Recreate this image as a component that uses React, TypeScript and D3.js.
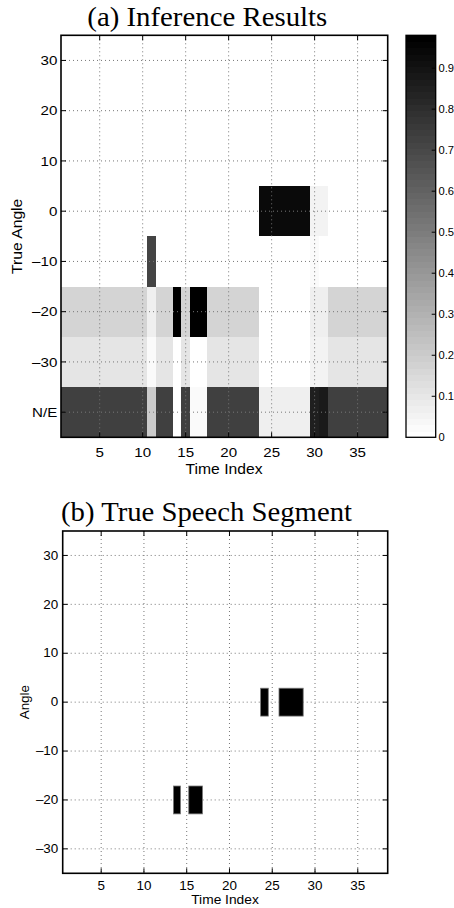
import React from "react";
import * as d3 from "d3";

// ---------- DATA ----------
const timeIndex: number[] = d3.range(1, 39); // 1..38
const angleRows: number[] = [30, 20, 10, 0, -10, -20, -30, -40];
const angleLabels: string[] = ["30", "20", "10", "0", "–10", "–20", "–30", "N/E"];

const row30: number[] = [0,0,0,0,0,0,0,0,0,0, 0,0,0,0,0,0,0,0,0,0, 0,0,0,0,0,0,0,0,0,0, 0,0,0,0,0,0,0,0];
const row20: number[] = [0,0,0,0,0,0,0,0,0,0, 0,0,0,0,0,0,0,0,0,0, 0,0,0,0,0,0,0,0,0,0, 0,0,0,0,0,0,0,0];
const row10: number[] = [0,0,0,0,0,0,0,0,0,0, 0,0,0,0,0,0,0,0,0,0, 0,0,0,0,0,0,0,0,0,0, 0,0,0,0,0,0,0,0];
const row0: number[] = [0,0,0,0,0,0,0,0,0,0, 0,0,0,0,0,0,0,0,0,0, 0,0,0,0.94,0.94,0.94,0.94,0.94,0.94,0.045, 0.045,0,0,0,0,0,0,0];
const rowM10: number[] = [0,0,0,0,0,0,0,0,0,0, 0.72,0,0,0,0,0,0,0,0,0, 0,0,0,0,0,0,0,0,0,0.02, 0,0,0,0,0,0,0,0];
const rowM20: number[] = [0.165,0.165,0.165,0.165,0.165,0.165,0.165,0.165,0.165,0.165, 0.06,0.165,0.165,0.98,0.165,0.98,0.98,0.165,0.165,0.165, 0.165,0.165,0.165,0,0,0,0,0,0,0.06, 0.06,0.165,0.165,0.165,0.165,0.165,0.165,0.165];
const rowM30: number[] = [0.1,0.1,0.1,0.1,0.1,0.1,0.1,0.1,0.1,0.1, 0.02,0.1,0.1,0,0.1,0,0,0.1,0.1,0.1, 0.1,0.1,0.1,0,0,0,0,0,0,0.045, 0.045,0.1,0.1,0.1,0.1,0.1,0.1,0.1];
const rowNE: number[] = [0.735,0.735,0.735,0.735,0.735,0.735,0.735,0.735,0.735,0.735, 0.2,0.735,0.735,0,0.735,0.02,0.02,0.735,0.735,0.735, 0.735,0.735,0.735,0.06,0.06,0.06,0.06,0.06,0.06,0.86, 0.88,0.735,0.735,0.735,0.735,0.735,0.735,0.735];
const inference: number[][] = [row30, row20, row10, row0, rowM10, rowM20, rowM30, rowNE];

const colorMax = 0.98;
const colorbarTicks: number[] = [0, 0.1, 0.2, 0.3, 0.4, 0.5, 0.6, 0.7, 0.8, 0.9];

const xTicks: number[] = [5, 10, 15, 20, 25, 30, 35];
const yTicksB: number[] = [30, 20, 10, 0, -10, -20, -30];
const yTickLabelsB: string[] = ["30", "20", "10", "0", "–10", "–20", "–30"];

// true speech segments
const segStart: number[] = [13.45, 15.24, 23.64, 25.79];
const segEnd: number[] = [14.27, 16.84, 24.54, 28.62];
const segAngle: number[] = [-20, -20, 0, 0];
const segHalfHeight = 2.85;

// ---------- LAYOUT ----------
const SX = 1.12;
const SANS = "'Liberation Sans', Arial, Helvetica, sans-serif";
const SERIF = "'Liberation Serif', 'Times New Roman', serif";

const A = { l: 61, r: 387.7, t: 35.3, b: 437.3 };
const B = { l: 62.7, r: 387.7, t: 531, b: 873.3 };
const CB = { l: 406, r: 435.7 };

function Txt(props: { x: number; y: number; rot?: number; size: number; anchor?: string; base?: string; children: React.ReactNode }) {
  const { x, y, rot = 0, size, anchor = "start", base = "auto", children } = props;
  return (
    <text
      transform={`translate(${x},${y}) rotate(${rot}) scale(${SX},1)`}
      fontSize={size}
      fontFamily={SANS}
      textAnchor={anchor}
      dominantBaseline={base}
      fill="#000"
    >
      {children}
    </text>
  );
}

const grayOf = (v: number) => {
  const g = Math.round(255 * (1 - Math.max(0, Math.min(1, v / colorMax))));
  return `rgb(${g},${g},${g})`;
};

export default function App() {
  const xA = d3.scaleLinear().domain([0.5, 38.5]).range([A.l, A.r]);
  const yA = d3.scaleLinear().domain([-45, 35]).range([A.b, A.t]);
  const xB = d3.scaleLinear().domain([0.5, 38.5]).range([B.l, B.r]);
  const yB = d3.scaleLinear().domain([-35, 35]).range([B.b, B.t]);
  const yC = d3.scaleLinear().domain([0, colorMax]).range([A.b, A.t]);

  const nLevels = 64;
  const levels = d3.range(nLevels);

  const tick = 5;
  const gridStyle = { stroke: "#777", strokeWidth: 1, strokeDasharray: "1,3" };

  return (
    <svg width={454} height={908} style={{ position: "absolute", left: 0, top: 0, background: "#fff" }}>
      <rect x={0} y={0} width={454} height={908} fill="#fff" />

      {/* ===== (a) ===== */}
      <text x={87.3} y={26} fontFamily={SERIF} fontSize={27} textLength={240} lengthAdjust="spacingAndGlyphs">
        (a) Inference Results
      </text>

      <g shapeRendering="crispEdges">
        {inference.map((row, ri) =>
          row.map((v, ci) => (
            <rect
              key={`c${ri}-${ci}`}
              x={xA(timeIndex[ci] - 0.5)}
              y={yA(angleRows[ri] + 5)}
              width={xA(timeIndex[ci] + 0.5) - xA(timeIndex[ci] - 0.5) + 0.5}
              height={yA(angleRows[ri] - 5) - yA(angleRows[ri] + 5) + 0.5}
              fill={grayOf(v)}
            />
          ))
        )}
      </g>

      {/* grid */}
      {xTicks.map((t) => (
        <line key={`gxa${t}`} x1={xA(t)} x2={xA(t)} y1={A.t} y2={A.b} {...gridStyle} />
      ))}
      {angleRows.map((a) => (
        <line key={`gya${a}`} x1={A.l} x2={A.r} y1={yA(a)} y2={yA(a)} {...gridStyle} />
      ))}
      {/* ticks */}
      {xTicks.map((t) => (
        <g key={`txa${t}`}>
          <line x1={xA(t)} x2={xA(t)} y1={A.b} y2={A.b - tick} stroke="#000" />
          <line x1={xA(t)} x2={xA(t)} y1={A.t} y2={A.t + tick} stroke="#000" />
          <Txt x={xA(t)} y={457} size={13.5} anchor="middle">{String(t)}</Txt>
        </g>
      ))}
      {angleRows.map((a, i) => (
        <g key={`tya${a}`}>
          <line x1={A.l} x2={A.l + tick} y1={yA(a)} y2={yA(a)} stroke="#000" />
          <line x1={A.r} x2={A.r - tick} y1={yA(a)} y2={yA(a)} stroke="#000" />
          <Txt x={57.3} y={yA(a)} size={13.5} anchor="end" base="central">{angleLabels[i]}</Txt>
        </g>
      ))}
      <rect x={A.l} y={A.t} width={A.r - A.l} height={A.b - A.t} fill="none" stroke="#000" strokeWidth={1.6} />
      <Txt x={224} y={473.5} size={14} anchor="middle">Time Index</Txt>
      <Txt x={21.5} y={(A.t + A.b) / 2} rot={-90} size={14} anchor="middle">True Angle</Txt>

      {/* colorbar */}
      <g shapeRendering="crispEdges">
        {levels.map((k) => {
          const g = Math.round(255 * (1 - k / (nLevels - 1)));
          return (
            <rect
              key={`cb${k}`}
              x={CB.l}
              y={yC((colorMax * (k + 1)) / nLevels)}
              width={CB.r - CB.l}
              height={yC((colorMax * k) / nLevels) - yC((colorMax * (k + 1)) / nLevels) + 0.5}
              fill={`rgb(${g},${g},${g})`}
            />
          );
        })}
      </g>
      {colorbarTicks.map((t) => (
        <g key={`cbt${t}`}>
          {t > 0 && <line x1={CB.r} x2={CB.r - 4} y1={yC(t)} y2={yC(t)} stroke="#000" />}
          <Txt x={438.5} y={yC(t)} size={10} base="central">{String(t)}</Txt>
        </g>
      ))}
      <rect x={CB.l} y={A.t} width={CB.r - CB.l} height={A.b - A.t} fill="none" stroke="#000" strokeWidth={1.3} />

      {/* ===== (b) ===== */}
      <text x={61} y={521} fontFamily={SERIF} fontSize={27} textLength={291} lengthAdjust="spacingAndGlyphs">
        (b) True Speech Segment
      </text>

      {xTicks.map((t) => (
        <line key={`gxb${t}`} x1={xB(t)} x2={xB(t)} y1={B.t} y2={B.b} {...gridStyle} />
      ))}
      {yTicksB.map((a) => (
        <line key={`gyb${a}`} x1={B.l} x2={B.r} y1={yB(a)} y2={yB(a)} {...gridStyle} />
      ))}

      {segStart.map((s, i) => (
        <rect
          key={`seg${i}`}
          x={xB(s)}
          y={yB(segAngle[i] + segHalfHeight)}
          width={xB(segEnd[i]) - xB(s)}
          height={yB(segAngle[i] - segHalfHeight) - yB(segAngle[i] + segHalfHeight)}
          fill="#000"
          stroke="#777"
          strokeWidth={0.8}
        />
      ))}

      {xTicks.map((t) => (
        <g key={`txb${t}`}>
          <line x1={xB(t)} x2={xB(t)} y1={B.b} y2={B.b - tick} stroke="#000" />
          <line x1={xB(t)} x2={xB(t)} y1={B.t} y2={B.t + tick} stroke="#000" />
          <Txt x={xB(t)} y={889.5} size={12} anchor="middle">{String(t)}</Txt>
        </g>
      ))}
      {yTicksB.map((a, i) => (
        <g key={`tyb${a}`}>
          <line x1={B.l} x2={B.l + tick} y1={yB(a)} y2={yB(a)} stroke="#000" />
          <line x1={B.r} x2={B.r - tick} y1={yB(a)} y2={yB(a)} stroke="#000" />
          <Txt x={58.3} y={yB(a)} size={12} anchor="end" base="central">{yTickLabelsB[i]}</Txt>
        </g>
      ))}
      <rect x={B.l} y={B.t} width={B.r - B.l} height={B.b - B.t} fill="none" stroke="#000" strokeWidth={1.6} />
      <Txt x={225} y={904} size={12.3} anchor="middle">Time Index</Txt>
      <Txt x={29} y={(B.t + B.b) / 2} rot={-90} size={12} anchor="middle">Angle</Txt>
    </svg>
  );
}
